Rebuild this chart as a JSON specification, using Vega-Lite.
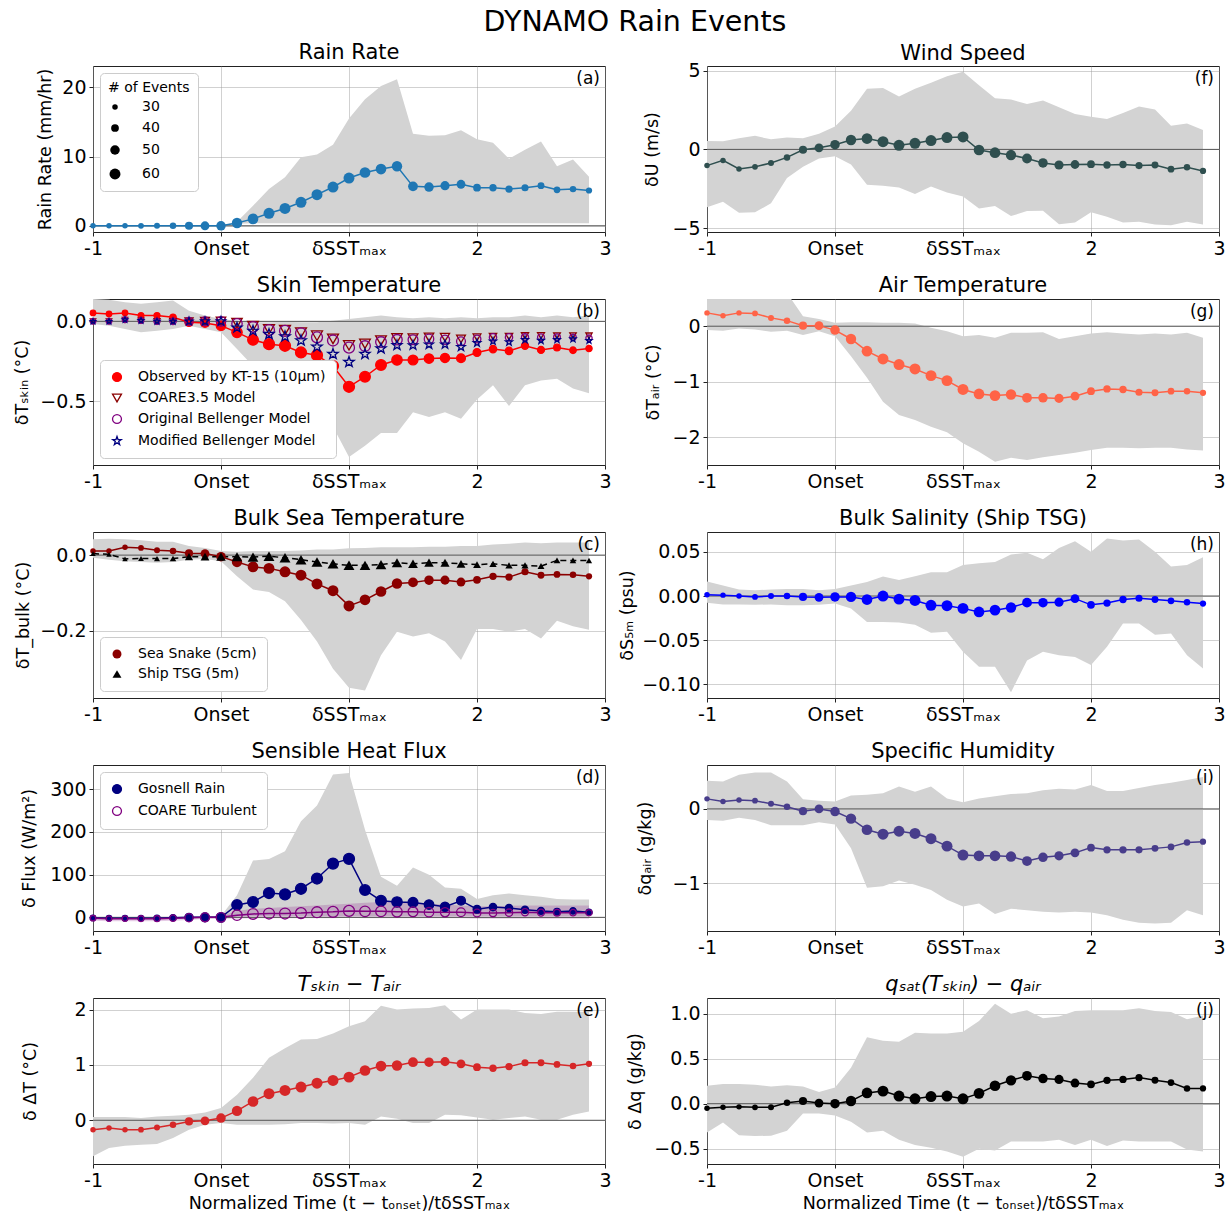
{
"$schema":"https://vega.github.io/schema/vega-lite/v6.json",
"padding":{"left":12,"top":8,"right":5,"bottom":0},
"background":"white",
"title":{"text":"DYNAMO Rain Events","fontSize":28.5,"anchor":"middle","offset":5,"dx":16},
"config":{
 "font":"DejaVu Sans",
 "view":{"stroke":"#222222","strokeWidth":1},
 "axis":{"labelFontSize":19,"titleFontSize":17.5,"titleFontWeight":"normal","labelColor":"#000000","titleColor":"#000000","tickColor":"#222222","tickSize":4,"domain":false,"gridColor":"#999999","gridOpacity":0.45,"zindex":1,"labelPadding":3,"labelFlush":false,"labelOverlap":false},
 "axisX":{"titlePadding":4},
 "axisY":{"titleBaseline":"middle"},
 "title":{"fontSize":21,"fontWeight":"normal","color":"#000000","offset":3},
 "legend":{"fillColor":"white","strokeColor":"#cccccc","padding":10,"cornerRadius":4,"labelFontSize":14,"titleFontSize":14,"titleFontWeight":"normal","offset":7,"zindex":2,"rowPadding":6,"labelColor":"#000000","titleColor":"#000000","symbolStrokeWidth":1.3,"labelLimit":400,"labelOffset":14}
},
"datasets":{"main":[
{"t":-1,"n":30,"a":0,"a_lo":0,"a_hi":0,"f":-1.03,"f_lo":-3.68,"f_hi":0.54,"b_obs":0.053,"b_coare":0,"b_orig":0,"b_mod":0,"b_lo":-0.017,"b_hi":0.14,"g":0.24,"g_lo":-0.07,"g_hi":0.6,"c_snake":0.011,"c_tsg":0.004,"c_lo":-0.007,"c_hi":0.042,"h":0.0015,"h_lo":-0.0075,"h_hi":0.0165,"d_gos":-1.5,"d_coare":-2,"d_lo":-4,"d_hi":1,"dc_lo":-8,"dc_hi":0,"i":0.135,"i_lo":-0.15,"i_hi":0.38,"e":-0.17,"e_lo":-0.65,"e_hi":0.06,"j":-0.05,"j_lo":-0.32,"j_hi":0.2},
{"t":-0.875,"n":30,"a":0,"a_lo":0,"a_hi":0,"f":-0.7,"f_lo":-3.32,"f_hi":0.51,"b_obs":0.046,"b_coare":0,"b_orig":0,"b_mod":0,"b_lo":-0.027,"b_hi":0.135,"g":0.19,"g_lo":-0.08,"g_hi":0.6,"c_snake":0.011,"c_tsg":0.002,"c_lo":-0.012,"c_hi":0.043,"h":0.001,"h_lo":-0.0095,"h_hi":0.012,"d_gos":-2,"d_coare":-3,"d_lo":-5,"d_hi":1,"dc_lo":-9,"dc_hi":-1,"i":0.1,"i_lo":-0.16,"i_hi":0.37,"e":-0.14,"e_lo":-0.5,"e_hi":0.06,"j":-0.04,"j_lo":-0.21,"j_hi":0.22},
{"t":-0.75,"n":30,"a":0,"a_lo":0,"a_hi":0,"f":-1.24,"f_lo":-4.03,"f_hi":0.71,"b_obs":0.053,"b_coare":0.01,"b_orig":0.01,"b_mod":0.01,"b_lo":-0.048,"b_hi":0.12,"g":0.24,"g_lo":-0.04,"g_hi":0.6,"c_snake":0.021,"c_tsg":-0.01,"c_lo":-0.016,"c_hi":0.042,"h":0,"h_lo":-0.0095,"h_hi":0.0075,"d_gos":-2,"d_coare":-3,"d_lo":-5,"d_hi":1,"dc_lo":-9,"dc_hi":-1,"i":0.12,"i_lo":-0.12,"i_hi":0.46,"e":-0.17,"e_lo":-0.46,"e_hi":0.06,"j":-0.035,"j_lo":-0.35,"j_hi":0.22},
{"t":-0.625,"n":31,"a":0,"a_lo":0,"a_hi":0,"f":-1.11,"f_lo":-4.0,"f_hi":0.86,"b_obs":0.036,"b_coare":0.005,"b_orig":0.005,"b_mod":0.005,"b_lo":-0.069,"b_hi":0.11,"g":0.23,"g_lo":-0.06,"g_hi":0.6,"c_snake":0.019,"c_tsg":-0.009,"c_lo":-0.018,"c_hi":0.039,"h":-0.001,"h_lo":-0.01,"h_hi":0.0065,"d_gos":-2,"d_coare":-3,"d_lo":-5,"d_hi":1,"dc_lo":-9,"dc_hi":-1,"i":0.11,"i_lo":-0.15,"i_hi":0.49,"e":-0.17,"e_lo":-0.44,"e_hi":0.04,"j":-0.04,"j_lo":-0.36,"j_hi":0.21},
{"t":-0.5,"n":32,"a":0,"a_lo":0,"a_hi":0,"f":-0.86,"f_lo":-3.43,"f_hi":0.64,"b_obs":0.036,"b_coare":0,"b_orig":0,"b_mod":0,"b_lo":-0.059,"b_hi":0.12,"g":0.15,"g_lo":-0.1,"g_hi":0.6,"c_snake":0.013,"c_tsg":-0.009,"c_lo":-0.02,"c_hi":0.035,"h":0,"h_lo":-0.0095,"h_hi":0.0075,"d_gos":-2,"d_coare":-3,"d_lo":-5,"d_hi":1,"dc_lo":-9,"dc_hi":-1,"i":0.07,"i_lo":-0.22,"i_hi":0.49,"e":-0.13,"e_lo":-0.43,"e_hi":0.07,"j":-0.04,"j_lo":-0.355,"j_hi":0.19},
{"t":-0.375,"n":34,"a":0,"a_lo":0,"a_hi":0,"f":-0.51,"f_lo":-1.82,"f_hi":0.75,"b_obs":0.025,"b_coare":0,"b_orig":0,"b_mod":0,"b_lo":-0.048,"b_hi":0.13,"g":0.1,"g_lo":-0.08,"g_hi":0.6,"c_snake":0.011,"c_tsg":-0.009,"c_lo":-0.018,"c_hi":0.035,"h":0,"h_lo":-0.0105,"h_hi":0.008,"d_gos":-1,"d_coare":-2,"d_lo":-4,"d_hi":1,"dc_lo":-8,"dc_hi":0,"i":0.03,"i_lo":-0.22,"i_hi":0.37,"e":-0.08,"e_lo":-0.32,"e_hi":0.08,"j":0.01,"j_lo":-0.3,"j_hi":0.205},
{"t":-0.25,"n":42,"a":0,"a_lo":0,"a_hi":0,"f":-0.02,"f_lo":-1.11,"f_hi":0.71,"b_obs":-0.006,"b_coare":0,"b_orig":0,"b_mod":0,"b_lo":-0.027,"b_hi":0.067,"g":0.01,"g_lo":-0.16,"g_hi":0.18,"c_snake":0.005,"c_tsg":-0.004,"c_lo":-0.012,"c_hi":0.024,"h":-0.001,"h_lo":-0.0105,"h_hi":0.008,"d_gos":0,"d_coare":-1,"d_lo":-3,"d_hi":1,"dc_lo":-6,"dc_hi":1,"i":-0.03,"i_lo":-0.22,"i_hi":0.13,"e":-0.02,"e_lo":-0.17,"e_hi":0.1,"j":0.03,"j_lo":-0.11,"j_hi":0.19},
{"t":-0.125,"n":46,"a":0,"a_lo":0,"a_hi":0,"f":0.1,"f_lo":-0.58,"f_hi":1.0,"b_obs":-0.01,"b_coare":0,"b_orig":0,"b_mod":0,"b_lo":-0.048,"b_hi":0.036,"g":0.01,"g_lo":-0.09,"g_hi":0.13,"c_snake":0.004,"c_tsg":-0.004,"c_lo":-0.01,"c_hi":0.019,"h":-0.0015,"h_lo":-0.01,"h_hi":0.0065,"d_gos":0,"d_coare":0,"d_lo":-2,"d_hi":2,"dc_lo":-4,"dc_hi":2,"i":0,"i_lo":-0.18,"i_hi":0.11,"e":-0.01,"e_lo":-0.08,"e_hi":0.14,"j":0.007,"j_lo":-0.11,"j_hi":0.13},
{"t":0,"n":50,"a":0,"a_lo":0,"a_hi":0,"f":0.3,"f_lo":-0.43,"f_hi":1.46,"b_obs":-0.027,"b_coare":0,"b_orig":0,"b_mod":0,"b_lo":-0.069,"b_hi":0.015,"g":-0.07,"g_lo":-0.18,"g_hi":0.06,"c_snake":-0.004,"c_tsg":-0.004,"c_lo":-0.016,"c_hi":0.011,"h":-0.001,"h_lo":-0.0085,"h_hi":0.008,"d_gos":0,"d_coare":0,"d_lo":-2,"d_hi":3,"dc_lo":-3,"dc_hi":3,"i":-0.035,"i_lo":-0.21,"i_hi":0.1,"e":0.04,"e_lo":-0.05,"e_hi":0.22,"j":0,"j_lo":-0.13,"j_hi":0.18},
{"t":0.125,"n":56,"a":0.4,"a_lo":0.3,"a_hi":0.6,"f":0.6,"f_lo":-0.96,"f_hi":2.46,"b_obs":-0.069,"b_coare":-0.01,"b_orig":-0.015,"b_mod":-0.04,"b_lo":-0.174,"b_hi":0.004,"g":-0.23,"g_lo":-0.54,"g_hi":0.07,"c_snake":-0.018,"c_tsg":-0.004,"c_lo":-0.056,"c_hi":0.009,"h":-0.001,"h_lo":-0.014,"h_hi":0.012,"d_gos":29,"d_coare":5,"d_lo":2,"d_hi":52,"dc_lo":-3,"dc_hi":15,"i":-0.13,"i_lo":-0.53,"i_hi":0.18,"e":0.17,"e_lo":-0.08,"e_hi":0.46,"j":0.03,"j_lo":-0.2,"j_hi":0.4},
{"t":0.25,"n":58,"a":1.0,"a_lo":0.35,"a_hi":2.9,"f":0.69,"f_lo":-2.25,"f_hi":3.85,"b_obs":-0.116,"b_coare":-0.03,"b_orig":-0.035,"b_mod":-0.06,"b_lo":-0.28,"b_hi":-0.006,"g":-0.45,"g_lo":-0.93,"g_hi":0.07,"c_snake":-0.031,"c_tsg":-0.005,"c_lo":-0.091,"c_hi":0.011,"h":-0.004,"h_lo":-0.0295,"h_hi":0.016,"d_gos":36,"d_coare":8,"d_lo":3,"d_hi":133,"dc_lo":-2,"dc_hi":20,"i":-0.28,"i_lo":-1.06,"i_hi":0.19,"e":0.34,"e_lo":-0.08,"e_hi":0.77,"j":0.12,"j_lo":-0.32,"j_hi":0.74},
{"t":0.375,"n":60,"a":1.8,"a_lo":0.35,"a_hi":5.3,"f":0.49,"f_lo":-2.31,"f_hi":3.9,"b_obs":-0.143,"b_coare":-0.05,"b_orig":-0.055,"b_mod":-0.08,"b_lo":-0.32,"b_hi":-0.006,"g":-0.59,"g_lo":-1.36,"g_hi":0.06,"c_snake":-0.035,"c_tsg":-0.003,"c_lo":-0.097,"c_hi":0.011,"h":0,"h_lo":-0.0295,"h_hi":0.022,"d_gos":57,"d_coare":9,"d_lo":3,"d_hi":137,"dc_lo":-2,"dc_hi":22,"i":-0.34,"i_lo":-1.04,"i_hi":0.21,"e":0.48,"e_lo":-0.08,"e_hi":1.13,"j":0.14,"j_lo":-0.3,"j_hi":0.7},
{"t":0.5,"n":60,"a":2.5,"a_lo":0.35,"a_hi":7.0,"f":0.26,"f_lo":-2.42,"f_hi":3.36,"b_obs":-0.153,"b_coare":-0.055,"b_orig":-0.06,"b_mod":-0.095,"b_lo":-0.38,"b_hi":-0.002,"g":-0.69,"g_lo":-1.6,"g_hi":0.06,"c_snake":-0.044,"c_tsg":-0.007,"c_lo":-0.122,"c_hi":0.011,"h":-0.0035,"h_lo":-0.03,"h_hi":0.018,"d_gos":54,"d_coare":9,"d_lo":3,"d_hi":155,"dc_lo":-2,"dc_hi":24,"i":-0.3,"i_lo":-0.96,"i_hi":0.3,"e":0.54,"e_lo":-0.07,"e_hi":1.3,"j":0.085,"j_lo":-0.4,"j_hi":0.69},
{"t":0.625,"n":60,"a":3.4,"a_lo":0.35,"a_hi":9.9,"f":0.39,"f_lo":-2.83,"f_hi":3.85,"b_obs":-0.195,"b_coare":-0.07,"b_orig":-0.075,"b_mod":-0.12,"b_lo":-0.47,"b_hi":-0.006,"g":-0.77,"g_lo":-1.69,"g_hi":0.05,"c_snake":-0.053,"c_tsg":-0.012,"c_lo":-0.171,"c_hi":0.012,"h":-0.005,"h_lo":-0.0325,"h_hi":0.0225,"d_gos":67,"d_coare":10,"d_lo":3,"d_hi":225,"dc_lo":-2,"dc_hi":26,"i":-0.33,"i_lo":-1.02,"i_hi":0.23,"e":0.6,"e_lo":-0.05,"e_hi":1.46,"j":0.055,"j_lo":-0.46,"j_hi":0.79},
{"t":0.75,"n":60,"a":4.5,"a_lo":0.35,"a_hi":10.3,"f":0.56,"f_lo":-2.36,"f_hi":4.24,"b_obs":-0.212,"b_coare":-0.09,"b_orig":-0.1,"b_mod":-0.16,"b_lo":-0.55,"b_hi":-0.006,"g":-0.89,"g_lo":-1.81,"g_hi":-0.03,"c_snake":-0.076,"c_tsg":-0.018,"c_lo":-0.228,"c_hi":0.015,"h":-0.0105,"h_lo":-0.0415,"h_hi":0.027,"d_gos":91,"d_coare":12,"d_lo":3,"d_hi":262,"dc_lo":-2,"dc_hi":28,"i":-0.4,"i_lo":-1.09,"i_hi":0.3,"e":0.67,"e_lo":-0.05,"e_hi":1.47,"j":0.08,"j_lo":-0.49,"j_hi":0.78},
{"t":0.875,"n":60,"a":5.6,"a_lo":0.35,"a_hi":11.7,"f":0.75,"f_lo":-2.74,"f_hi":4.65,"b_obs":-0.28,"b_coare":-0.11,"b_orig":-0.12,"b_mod":-0.205,"b_lo":-0.66,"b_hi":0.004,"g":-0.98,"g_lo":-1.91,"g_hi":-0.09,"c_snake":-0.094,"c_tsg":-0.023,"c_lo":-0.3,"c_hi":0.015,"h":-0.011,"h_lo":-0.0405,"h_hi":0.027,"d_gos":126,"d_coare":13,"d_lo":3,"d_hi":335,"dc_lo":-2,"dc_hi":30,"i":-0.5,"i_lo":-1.22,"i_hi":0.14,"e":0.72,"e_lo":-0.06,"e_hi":1.57,"j":0.085,"j_lo":-0.53,"j_hi":0.78},
{"t":1,"n":60,"a":6.9,"a_lo":0.35,"a_hi":15.5,"f":0.79,"f_lo":-3.0,"f_hi":4.93,"b_obs":-0.41,"b_coare":-0.15,"b_orig":-0.165,"b_mod":-0.255,"b_lo":-0.85,"b_hi":0.015,"g":-1.14,"g_lo":-2.11,"g_hi":-0.18,"c_snake":-0.134,"c_tsg":-0.027,"c_lo":-0.35,"c_hi":0.018,"h":-0.014,"h_lo":-0.063,"h_hi":0.035,"d_gos":137,"d_coare":15,"d_lo":3,"d_hi":338,"dc_lo":-1,"dc_hi":32,"i":-0.62,"i_lo":-1.31,"i_hi":0.09,"e":0.78,"e_lo":-0.05,"e_hi":1.7,"j":0.055,"j_lo":-0.59,"j_hi":0.8},
{"t":1.125,"n":58,"a":7.7,"a_lo":0.35,"a_hi":18.3,"f":-0.04,"f_lo":-3.75,"f_hi":4.07,"b_obs":-0.347,"b_coare":-0.14,"b_orig":-0.155,"b_mod":-0.205,"b_lo":-0.78,"b_hi":0.025,"g":-1.22,"g_lo":-2.26,"g_hi":-0.16,"c_snake":-0.118,"c_tsg":-0.027,"c_lo":-0.357,"c_hi":0.019,"h":-0.018,"h_lo":-0.08,"h_hi":0.037,"d_gos":64,"d_coare":14,"d_lo":3,"d_hi":205,"dc_lo":-2,"dc_hi":34,"i":-0.63,"i_lo":-1.27,"i_hi":0.14,"e":0.9,"e_lo":-0.08,"e_hi":1.79,"j":0.115,"j_lo":-0.5,"j_hi":0.92},
{"t":1.25,"n":58,"a":8.2,"a_lo":0.35,"a_hi":20.2,"f":-0.21,"f_lo":-3.6,"f_hi":3.25,"b_obs":-0.273,"b_coare":-0.12,"b_orig":-0.13,"b_mod":-0.17,"b_lo":-0.7,"b_hi":0.036,"g":-1.25,"g_lo":-2.44,"g_hi":-0.21,"c_snake":-0.096,"c_tsg":-0.025,"c_lo":-0.264,"c_hi":0.021,"h":-0.016,"h_lo":-0.08,"h_hi":0.0385,"d_gos":39,"d_coare":14,"d_lo":3,"d_hi":95,"dc_lo":-2,"dc_hi":36,"i":-0.63,"i_lo":-1.41,"i_hi":0.17,"e":0.98,"e_lo":0.07,"e_hi":2.07,"j":0.2,"j_lo":-0.52,"j_hi":1.11},
{"t":1.375,"n":56,"a":8.6,"a_lo":0.35,"a_hi":21.2,"f":-0.36,"f_lo":-4.24,"f_hi":3.17,"b_obs":-0.242,"b_coare":-0.105,"b_orig":-0.115,"b_mod":-0.15,"b_lo":-0.7,"b_hi":0.025,"g":-1.23,"g_lo":-2.37,"g_hi":-0.12,"c_snake":-0.075,"c_tsg":-0.02,"c_lo":-0.202,"c_hi":0.021,"h":-0.013,"h_lo":-0.109,"h_hi":0.047,"d_gos":36,"d_coare":13,"d_lo":3,"d_hi":74,"dc_lo":-2,"dc_hi":36,"i":-0.64,"i_lo":-1.34,"i_hi":0.2,"e":0.99,"e_lo":0.03,"e_hi":2.0,"j":0.26,"j_lo":-0.42,"j_hi":1.0},
{"t":1.5,"n":52,"a":5.7,"a_lo":0.35,"a_hi":13.3,"f":-0.58,"f_lo":-3.92,"f_hi":2.89,"b_obs":-0.242,"b_coare":-0.105,"b_orig":-0.115,"b_mod":-0.15,"b_lo":-0.57,"b_hi":0.019,"g":-1.29,"g_lo":-2.41,"g_hi":-0.12,"c_snake":-0.072,"c_tsg":-0.023,"c_lo":-0.215,"c_hi":0.021,"h":-0.0075,"h_lo":-0.073,"h_hi":0.049,"d_gos":35,"d_coare":13,"d_lo":3,"d_hi":117,"dc_lo":-2,"dc_hi":34,"i":-0.7,"i_lo":-1.36,"i_hi":0.21,"e":1.05,"e_lo":-0.05,"e_hi":2.02,"j":0.31,"j_lo":-0.42,"j_hi":1.04},
{"t":1.625,"n":50,"a":5.6,"a_lo":0.35,"a_hi":13.0,"f":-0.86,"f_lo":-3.9,"f_hi":3.1,"b_obs":-0.233,"b_coare":-0.1,"b_orig":-0.11,"b_mod":-0.145,"b_lo":-0.6,"b_hi":0.025,"g":-1.29,"g_lo":-2.36,"g_hi":-0.11,"c_snake":-0.066,"c_tsg":-0.02,"c_lo":-0.206,"c_hi":0.022,"h":-0.0075,"h_lo":-0.063,"h_hi":0.0415,"d_gos":30,"d_coare":12,"d_lo":3,"d_hi":100,"dc_lo":-2,"dc_hi":32,"i":-0.65,"i_lo":-1.38,"i_hi":0.25,"e":1.05,"e_lo":-0.05,"e_hi":2.03,"j":0.28,"j_lo":-0.42,"j_hi":0.95},
{"t":1.75,"n":48,"a":5.8,"a_lo":0.35,"a_hi":13.1,"f":-0.99,"f_lo":-4.75,"f_hi":2.68,"b_obs":-0.229,"b_coare":-0.1,"b_orig":-0.115,"b_mod":-0.145,"b_lo":-0.57,"b_hi":0.019,"g":-1.3,"g_lo":-2.32,"g_hi":-0.23,"c_snake":-0.066,"c_tsg":-0.02,"c_lo":-0.228,"c_hi":0.022,"h":-0.007,"h_lo":-0.067,"h_hi":0.0545,"d_gos":25,"d_coare":12,"d_lo":3,"d_hi":70,"dc_lo":-2,"dc_hi":30,"i":-0.63,"i_lo":-1.39,"i_hi":0.27,"e":1.06,"e_lo":0.1,"e_hi":2.08,"j":0.27,"j_lo":-0.4,"j_hi":0.97},
{"t":1.875,"n":46,"a":6.0,"a_lo":0.35,"a_hi":13.8,"f":-0.96,"f_lo":-4.65,"f_hi":2.25,"b_obs":-0.231,"b_coare":-0.11,"b_orig":-0.125,"b_mod":-0.16,"b_lo":-0.61,"b_hi":0.025,"g":-1.26,"g_lo":-2.28,"g_hi":-0.18,"c_snake":-0.071,"c_tsg":-0.023,"c_lo":-0.277,"c_hi":0.024,"h":-0.003,"h_lo":-0.069,"h_hi":0.062,"d_gos":39,"d_coare":12,"d_lo":3,"d_hi":67,"dc_lo":-2,"dc_hi":28,"i":-0.59,"i_lo":-1.38,"i_hi":0.26,"e":1.02,"e_lo":0.09,"e_hi":1.82,"j":0.23,"j_lo":-0.46,"j_hi":1.03},
{"t":2,"n":40,"a":5.5,"a_lo":0.35,"a_hi":12.5,"f":-0.94,"f_lo":-4.0,"f_hi":2.08,"b_obs":-0.195,"b_coare":-0.1,"b_orig":-0.11,"b_mod":-0.135,"b_lo":-0.49,"b_hi":0.019,"g":-1.17,"g_lo":-2.23,"g_hi":-0.13,"c_snake":-0.065,"c_tsg":-0.025,"c_lo":-0.195,"c_hi":0.024,"h":-0.01,"h_lo":-0.078,"h_hi":0.05,"d_gos":19,"d_coare":10,"d_lo":3,"d_hi":43,"dc_lo":-3,"dc_hi":26,"i":-0.52,"i_lo":-1.39,"i_hi":0.32,"e":0.96,"e_lo":0.05,"e_hi":2.0,"j":0.215,"j_lo":-0.4,"j_hi":1.04},
{"t":2.125,"n":38,"a":5.5,"a_lo":0.35,"a_hi":12.0,"f":-0.99,"f_lo":-4.28,"f_hi":1.93,"b_obs":-0.174,"b_coare":-0.095,"b_orig":-0.1,"b_mod":-0.125,"b_lo":-0.4,"b_hi":0.025,"g":-1.13,"g_lo":-2.19,"g_hi":-0.11,"c_snake":-0.056,"c_tsg":-0.023,"c_lo":-0.195,"c_hi":0.028,"h":-0.008,"h_lo":-0.0575,"h_hi":0.065,"d_gos":24,"d_coare":10,"d_lo":3,"d_hi":52,"dc_lo":-3,"dc_hi":26,"i":-0.55,"i_lo":-1.43,"i_hi":0.24,"e":0.94,"e_lo":0.01,"e_hi":2.0,"j":0.26,"j_lo":-0.47,"j_hi":1.04},
{"t":2.25,"n":38,"a":5.3,"a_lo":0.35,"a_hi":9.7,"f":-0.96,"f_lo":-4.65,"f_hi":2.31,"b_obs":-0.185,"b_coare":-0.095,"b_orig":-0.1,"b_mod":-0.13,"b_lo":-0.53,"b_hi":0.025,"g":-1.14,"g_lo":-2.19,"g_hi":-0.13,"c_snake":-0.058,"c_tsg":-0.027,"c_lo":-0.202,"c_hi":0.03,"h":-0.004,"h_lo":-0.031,"h_hi":0.063,"d_gos":22,"d_coare":11,"d_lo":3,"d_hi":56,"dc_lo":-3,"dc_hi":27,"i":-0.55,"i_lo":-1.49,"i_hi":0.24,"e":0.97,"e_lo":0.04,"e_hi":2.0,"j":0.27,"j_lo":-0.41,"j_hi":1.04},
{"t":2.375,"n":37,"a":5.5,"a_lo":0.35,"a_hi":11.0,"f":-1.03,"f_lo":-4.6,"f_hi":2.72,"b_obs":-0.153,"b_coare":-0.09,"b_orig":-0.1,"b_mod":-0.115,"b_lo":-0.4,"b_hi":0.036,"g":-1.19,"g_lo":-2.2,"g_hi":-0.15,"c_snake":-0.044,"c_tsg":-0.027,"c_lo":-0.195,"c_hi":0.033,"h":-0.0025,"h_lo":-0.031,"h_hi":0.064,"d_gos":18,"d_coare":12,"d_lo":3,"d_hi":52,"dc_lo":-3,"dc_hi":28,"i":-0.55,"i_lo":-1.53,"i_hi":0.28,"e":1.04,"e_lo":0.07,"e_hi":1.94,"j":0.29,"j_lo":-0.42,"j_hi":1.06},
{"t":2.5,"n":36,"a":5.8,"a_lo":0.35,"a_hi":12.2,"f":-0.99,"f_lo":-4.78,"f_hi":2.53,"b_obs":-0.179,"b_coare":-0.09,"b_orig":-0.1,"b_mod":-0.12,"b_lo":-0.37,"b_hi":0.025,"g":-1.2,"g_lo":-2.19,"g_hi":-0.13,"c_snake":-0.053,"c_tsg":-0.029,"c_lo":-0.22,"c_hi":0.031,"h":-0.004,"h_lo":-0.044,"h_hi":0.05,"d_gos":15,"d_coare":11,"d_lo":3,"d_hi":48,"dc_lo":-3,"dc_hi":28,"i":-0.53,"i_lo":-1.54,"i_hi":0.32,"e":1.04,"e_lo":0.01,"e_hi":1.92,"j":0.26,"j_lo":-0.42,"j_hi":1.03},
{"t":2.625,"n":35,"a":5.2,"a_lo":0.35,"a_hi":8.6,"f":-1.26,"f_lo":-4.82,"f_hi":1.5,"b_obs":-0.164,"b_coare":-0.09,"b_orig":-0.1,"b_mod":-0.115,"b_lo":-0.36,"b_hi":0.036,"g":-1.17,"g_lo":-2.19,"g_hi":-0.15,"c_snake":-0.051,"c_tsg":-0.014,"c_lo":-0.173,"c_hi":0.033,"h":-0.0055,"h_lo":-0.0425,"h_hi":0.0335,"d_gos":13,"d_coare":11,"d_lo":3,"d_hi":43,"dc_lo":-3,"dc_hi":28,"i":-0.51,"i_lo":-1.53,"i_hi":0.35,"e":1.01,"e_lo":0.01,"e_hi":1.96,"j":0.235,"j_lo":-0.42,"j_hi":1.02},
{"t":2.75,"n":34,"a":5.3,"a_lo":0.35,"a_hi":9.6,"f":-1.13,"f_lo":-4.6,"f_hi":1.65,"b_obs":-0.181,"b_coare":-0.09,"b_orig":-0.1,"b_mod":-0.11,"b_lo":-0.42,"b_hi":0.025,"g":-1.17,"g_lo":-2.22,"g_hi":-0.12,"c_snake":-0.052,"c_tsg":-0.014,"c_lo":-0.188,"c_hi":0.033,"h":-0.007,"h_lo":-0.067,"h_hi":0.035,"d_gos":15,"d_coare":11,"d_lo":3,"d_hi":42,"dc_lo":-3,"dc_hi":28,"i":-0.45,"i_lo":-1.36,"i_hi":0.39,"e":0.98,"e_lo":0.1,"e_hi":1.96,"j":0.17,"j_lo":-0.51,"j_hi":0.94},
{"t":2.875,"n":33,"a":5.1,"a_lo":0.35,"a_hi":7.1,"f":-1.37,"f_lo":-4.78,"f_hi":1.24,"b_obs":-0.17,"b_coare":-0.09,"b_orig":-0.105,"b_mod":-0.12,"b_lo":-0.45,"b_hi":0.036,"g":-1.2,"g_lo":-2.24,"g_hi":-0.21,"c_snake":-0.056,"c_tsg":-0.014,"c_lo":-0.197,"c_hi":0.033,"h":-0.0085,"h_lo":-0.082,"h_hi":0.044,"d_gos":12,"d_coare":11,"d_lo":3,"d_hi":42,"dc_lo":-3,"dc_hi":28,"i":-0.44,"i_lo":-1.43,"i_hi":0.43,"e":1.02,"e_lo":0.16,"e_hi":1.96,"j":0.17,"j_lo":-0.53,"j_hi":0.98}
]},
"columns":2,
"bounds":"flush",
"spacing":{"row":67,"column":102},
"resolve":{"scale":{"color":"independent","fill":"independent","stroke":"independent","shape":"independent","size":"independent"},"legend":{"color":"independent","fill":"independent","stroke":"independent","shape":"independent","size":"independent"}},
"concat":[
{"width":512,"height":166,"title":"Rain Rate","data":{"name":"main"},"layer":[
 {"mark":{"type":"area","color":"#d3d3d3","clip":true},"encoding":{"x":{"field":"t","type":"quantitative","scale":{"domain":[-1,3],"nice":false,"zero":false},"axis":{"values":[-1,0,1,2,3],"labelExpr":"datum.value == 0 ? 'Onset' : datum.value == 1 ? 'δSSTₘₐₓ' : datum.value == -1 ? '-1' : datum.value == 2 ? '2' : '3'","title":null}},"y":{"field":"a_lo","type":"quantitative","scale":{"domain":[-0.9,23.1],"nice":false,"zero":false},"axis":{"title":"Rain Rate (mm/hr)","values":[0,10,20],"format":"d","titleX":-48}},"y2":{"field":"a_hi"}}},
 {"data":{"values":[{}]},"mark":{"type":"rule","color":"#555555","strokeWidth":1},"encoding":{"y":{"datum":0,"type":"quantitative"}}},
 {"mark":{"type":"line","color":"#1f77b4","strokeWidth":1.5},"encoding":{"x":{"field":"t","type":"quantitative"},"y":{"field":"a","type":"quantitative"}}},
 {"mark":{"type":"circle","color":"#000000","opacity":0},"encoding":{"x":{"field":"t","type":"quantitative"},"y":{"field":"a","type":"quantitative"},"size":{"field":"n","type":"quantitative","scale":{"domain":[30,60],"range":[30,120]},"legend":{"title":"# of Events","orient":"top-left","values":[30,40,50,60],"symbolType":"circle","labelOffset":20,"rowPadding":7,"padding":8}}}},
 {"mark":{"type":"circle","color":"#1f77b4","opacity":1},"encoding":{"x":{"field":"t","type":"quantitative"},"y":{"field":"a","type":"quantitative"},"size":{"field":"n","type":"quantitative","scale":{"domain":[30,60],"range":[30,120]},"legend":null}}},
 {"data":{"values":[{"label":"(a)"}]},"mark":{"type":"text","align":"right","baseline":"top","dx":-5,"dy":5,"fontSize":17},"encoding":{"x":{"datum":3,"type":"quantitative"},"y":{"datum":23.1,"type":"quantitative"},"text":{"field":"label"}}}
]},
{"width":512,"height":166,"title":{"text":"Wind Speed","offset":-2},"data":{"name":"main"},"layer":[
 {"mark":{"type":"area","color":"#d3d3d3","clip":true},"encoding":{"x":{"field":"t","type":"quantitative","scale":{"domain":[-1,3],"nice":false,"zero":false},"axis":{"values":[-1,0,1,2,3],"labelExpr":"datum.value == 0 ? 'Onset' : datum.value == 1 ? 'δSSTₘₐₓ' : datum.value == -1 ? '-1' : datum.value == 2 ? '2' : '3'","title":null}},"y":{"field":"f_lo","type":"quantitative","scale":{"domain":[-5.25,5.3],"nice":false,"zero":false},"axis":{"title":"δU (m/s)","values":[-5,0,5],"format":"d","titleX":-55}},"y2":{"field":"f_hi"}}},
 {"data":{"values":[{}]},"mark":{"type":"rule","color":"#555555","strokeWidth":1},"encoding":{"y":{"datum":0,"type":"quantitative"}}},
 {"mark":{"type":"line","color":"#2f4f4f","strokeWidth":1.5},"encoding":{"x":{"field":"t","type":"quantitative"},"y":{"field":"f","type":"quantitative"}}},
 {"mark":{"type":"circle","color":"#2f4f4f","opacity":1},"encoding":{"x":{"field":"t","type":"quantitative"},"y":{"field":"f","type":"quantitative"},"size":{"field":"n","type":"quantitative","scale":{"domain":[30,60],"range":[30,120]},"legend":null}}},
 {"data":{"values":[{"label":"(f)"}]},"mark":{"type":"text","align":"right","baseline":"top","dx":-5,"dy":5,"fontSize":17},"encoding":{"x":{"datum":3,"type":"quantitative"},"y":{"datum":5.3,"type":"quantitative"},"text":{"field":"label"}}}
]},
{"width":512,"height":166,"title":"Skin Temperature","data":{"name":"main"},"layer":[
 {"mark":{"type":"area","color":"#d3d3d3","clip":true},"encoding":{"x":{"field":"t","type":"quantitative","scale":{"domain":[-1,3],"nice":false,"zero":false},"axis":{"values":[-1,0,1,2,3],"labelExpr":"datum.value == 0 ? 'Onset' : datum.value == 1 ? 'δSSTₘₐₓ' : datum.value == -1 ? '-1' : datum.value == 2 ? '2' : '3'","title":null}},"y":{"field":"b_lo","type":"quantitative","scale":{"domain":[-0.9,0.14],"nice":false,"zero":false},"axis":{"title":"δTₛₖᵢₙ (°C)","values":[-0.5,0],"format":".1f","titleX":-71}},"y2":{"field":"b_hi"}}},
 {"data":{"values":[{}]},"mark":{"type":"rule","color":"#555555","strokeWidth":1},"encoding":{"y":{"datum":0,"type":"quantitative"}}},
 {"mark":{"type":"line","color":"#ff0000","strokeWidth":1.5},"encoding":{"x":{"field":"t","type":"quantitative"},"y":{"field":"b_obs","type":"quantitative"}}},
 {"transform":[{"fold":["b_obs","b_coare","b_orig","b_mod"],"as":["series","v"]}],"mark":{"type":"point","strokeWidth":1.3,"opacity":1},"encoding":{"x":{"field":"t","type":"quantitative"},"y":{"field":"v","type":"quantitative"},
  "shape":{"field":"series","type":"nominal","scale":{"domain":["b_obs","b_coare","b_orig","b_mod"],"range":["circle","triangle-down","circle","M0,-1L0.235,-0.324L0.951,-0.309L0.38,0.124L0.588,0.809L0,0.4L-0.588,0.809L-0.38,0.124L-0.951,-0.309L-0.235,-0.324Z"]},"legend":{"title":null,"orient":"bottom-left","symbolSize":80,"labelExpr":"datum.value == 'b_obs' ? 'Observed by KT-15 (10μm)' : datum.value == 'b_coare' ? 'COARE3.5 Model' : datum.value == 'b_orig' ? 'Original Bellenger Model' : 'Modified Bellenger Model'"}},
  "fill":{"field":"series","type":"nominal","scale":{"domain":["b_obs","b_coare","b_orig","b_mod"],"range":["#ff0000","transparent","transparent","transparent"]},"legend":{"title":null,"orient":"bottom-left","symbolSize":80,"labelExpr":"datum.value == 'b_obs' ? 'Observed by KT-15 (10μm)' : datum.value == 'b_coare' ? 'COARE3.5 Model' : datum.value == 'b_orig' ? 'Original Bellenger Model' : 'Modified Bellenger Model'"}},
  "stroke":{"field":"series","type":"nominal","scale":{"domain":["b_obs","b_coare","b_orig","b_mod"],"range":["#ff0000","#8b0000","#800080","#000080"]},"legend":{"title":null,"orient":"bottom-left","symbolSize":80,"labelExpr":"datum.value == 'b_obs' ? 'Observed by KT-15 (10μm)' : datum.value == 'b_coare' ? 'COARE3.5 Model' : datum.value == 'b_orig' ? 'Original Bellenger Model' : 'Modified Bellenger Model'"}},
  "size":{"field":"n","type":"quantitative","scale":{"domain":[30,60],"range":[30,120]},"legend":null}}},
 {"data":{"values":[{"label":"(b)"}]},"mark":{"type":"text","align":"right","baseline":"top","dx":-5,"dy":5,"fontSize":17},"encoding":{"x":{"datum":3,"type":"quantitative"},"y":{"datum":0.14,"type":"quantitative"},"text":{"field":"label"}}}
]},
{"width":512,"height":166,"title":"Air Temperature","data":{"name":"main"},"layer":[
 {"mark":{"type":"area","color":"#d3d3d3","clip":true},"encoding":{"x":{"field":"t","type":"quantitative","scale":{"domain":[-1,3],"nice":false,"zero":false},"axis":{"values":[-1,0,1,2,3],"labelExpr":"datum.value == 0 ? 'Onset' : datum.value == 1 ? 'δSSTₘₐₓ' : datum.value == -1 ? '-1' : datum.value == 2 ? '2' : '3'","title":null}},"y":{"field":"g_lo","type":"quantitative","scale":{"domain":[-2.5,0.49],"nice":false,"zero":false},"axis":{"title":"δTₐᵢᵣ (°C)","values":[-2,-1,0],"format":"d","titleX":-54}},"y2":{"field":"g_hi"}}},
 {"data":{"values":[{}]},"mark":{"type":"rule","color":"#555555","strokeWidth":1},"encoding":{"y":{"datum":0,"type":"quantitative"}}},
 {"mark":{"type":"line","color":"#ff6347","strokeWidth":1.5},"encoding":{"x":{"field":"t","type":"quantitative"},"y":{"field":"g","type":"quantitative"}}},
 {"mark":{"type":"circle","color":"#ff6347","opacity":1},"encoding":{"x":{"field":"t","type":"quantitative"},"y":{"field":"g","type":"quantitative"},"size":{"field":"n","type":"quantitative","scale":{"domain":[30,60],"range":[30,120]},"legend":null}}},
 {"data":{"values":[{"label":"(g)"}]},"mark":{"type":"text","align":"right","baseline":"top","dx":-5,"dy":5,"fontSize":17},"encoding":{"x":{"datum":3,"type":"quantitative"},"y":{"datum":0.49,"type":"quantitative"},"text":{"field":"label"}}}
]},
{"width":512,"height":166,"title":"Bulk Sea Temperature","data":{"name":"main"},"layer":[
 {"mark":{"type":"area","color":"#d3d3d3","clip":true},"encoding":{"x":{"field":"t","type":"quantitative","scale":{"domain":[-1,3],"nice":false,"zero":false},"axis":{"values":[-1,0,1,2,3],"labelExpr":"datum.value == 0 ? 'Onset' : datum.value == 1 ? 'δSSTₘₐₓ' : datum.value == -1 ? '-1' : datum.value == 2 ? '2' : '3'","title":null}},"y":{"field":"c_lo","type":"quantitative","scale":{"domain":[-0.377,0.061],"nice":false,"zero":false},"axis":{"title":"δT_bulk (°C)","values":[-0.2,0],"format":".1f","titleX":-70}},"y2":{"field":"c_hi"}}},
 {"data":{"values":[{}]},"mark":{"type":"rule","color":"#555555","strokeWidth":1},"encoding":{"y":{"datum":0,"type":"quantitative"}}},
 {"mark":{"type":"line","color":"#8b0000","strokeWidth":1.5},"encoding":{"x":{"field":"t","type":"quantitative"},"y":{"field":"c_snake","type":"quantitative"}}},
 {"mark":{"type":"line","color":"#000000","strokeWidth":1.5,"strokeDash":[6,4]},"encoding":{"x":{"field":"t","type":"quantitative"},"y":{"field":"c_tsg","type":"quantitative"}}},
 {"transform":[{"fold":["c_snake","c_tsg"],"as":["series","v"]}],"mark":{"type":"point","filled":true,"opacity":1},"encoding":{"x":{"field":"t","type":"quantitative"},"y":{"field":"v","type":"quantitative"},
  "color":{"field":"series","type":"nominal","scale":{"domain":["c_snake","c_tsg"],"range":["#8b0000","#000000"]},"legend":{"title":null,"orient":"bottom-left","symbolSize":80,"labelExpr":"datum.value == 'c_snake' ? 'Sea Snake (5cm)' : 'Ship TSG (5m)'"}},
  "shape":{"field":"series","type":"nominal","scale":{"domain":["c_snake","c_tsg"],"range":["circle","triangle-up"]},"legend":{"title":null,"orient":"bottom-left","symbolSize":80,"labelExpr":"datum.value == 'c_snake' ? 'Sea Snake (5cm)' : 'Ship TSG (5m)'"}},
  "size":{"field":"n","type":"quantitative","scale":{"domain":[30,60],"range":[30,120]},"legend":null}}},
 {"data":{"values":[{"label":"(c)"}]},"mark":{"type":"text","align":"right","baseline":"top","dx":-5,"dy":5,"fontSize":17},"encoding":{"x":{"datum":3,"type":"quantitative"},"y":{"datum":0.061,"type":"quantitative"},"text":{"field":"label"}}}
]},
{"width":512,"height":166,"title":"Bulk Salinity (Ship TSG)","data":{"name":"main"},"layer":[
 {"mark":{"type":"area","color":"#d3d3d3","clip":true},"encoding":{"x":{"field":"t","type":"quantitative","scale":{"domain":[-1,3],"nice":false,"zero":false},"axis":{"values":[-1,0,1,2,3],"labelExpr":"datum.value == 0 ? 'Onset' : datum.value == 1 ? 'δSSTₘₐₓ' : datum.value == -1 ? '-1' : datum.value == 2 ? '2' : '3'","title":null}},"y":{"field":"h_lo","type":"quantitative","scale":{"domain":[-0.1155,0.0725],"nice":false,"zero":false},"axis":{"title":"δS₅ₘ (psu)","values":[-0.1,-0.05,0,0.05],"format":".2f","titleX":-80}},"y2":{"field":"h_hi"}}},
 {"data":{"values":[{}]},"mark":{"type":"rule","color":"#555555","strokeWidth":1},"encoding":{"y":{"datum":0,"type":"quantitative"}}},
 {"mark":{"type":"line","color":"#0000ff","strokeWidth":1.5},"encoding":{"x":{"field":"t","type":"quantitative"},"y":{"field":"h","type":"quantitative"}}},
 {"mark":{"type":"circle","color":"#0000ff","opacity":1},"encoding":{"x":{"field":"t","type":"quantitative"},"y":{"field":"h","type":"quantitative"},"size":{"field":"n","type":"quantitative","scale":{"domain":[30,60],"range":[30,120]},"legend":null}}},
 {"data":{"values":[{"label":"(h)"}]},"mark":{"type":"text","align":"right","baseline":"top","dx":-5,"dy":5,"fontSize":17},"encoding":{"x":{"datum":3,"type":"quantitative"},"y":{"datum":0.0725,"type":"quantitative"},"text":{"field":"label"}}}
]},
{"width":512,"height":166,"title":"Sensible Heat Flux","data":{"name":"main"},"layer":[
 {"mark":{"type":"area","color":"#d3d3d3","clip":true},"encoding":{"x":{"field":"t","type":"quantitative","scale":{"domain":[-1,3],"nice":false,"zero":false},"axis":{"values":[-1,0,1,2,3],"labelExpr":"datum.value == 0 ? 'Onset' : datum.value == 1 ? 'δSSTₘₐₓ' : datum.value == -1 ? '-1' : datum.value == 2 ? '2' : '3'","title":null}},"y":{"field":"d_lo","type":"quantitative","scale":{"domain":[-32,357],"nice":false,"zero":false},"axis":{"title":"δ Flux (W/m²)","values":[0,100,200,300],"format":"d","titleX":-64}},"y2":{"field":"d_hi"}}},
 {"mark":{"type":"area","color":"#800080","opacity":0.2,"clip":true},"encoding":{"x":{"field":"t","type":"quantitative"},"y":{"field":"dc_lo","type":"quantitative"},"y2":{"field":"dc_hi"}}},
 {"data":{"values":[{}]},"mark":{"type":"rule","color":"#555555","strokeWidth":1},"encoding":{"y":{"datum":0,"type":"quantitative"}}},
 {"mark":{"type":"line","color":"#000080","strokeWidth":1.5},"encoding":{"x":{"field":"t","type":"quantitative"},"y":{"field":"d_gos","type":"quantitative"}}},
 {"mark":{"type":"line","color":"#800080","strokeWidth":1.5},"encoding":{"x":{"field":"t","type":"quantitative"},"y":{"field":"d_coare","type":"quantitative"}}},
 {"transform":[{"fold":["d_gos","d_coare"],"as":["series","v"]}],"mark":{"type":"point","shape":"circle","strokeWidth":1.3,"opacity":1},"encoding":{"x":{"field":"t","type":"quantitative"},"y":{"field":"v","type":"quantitative"},
  "fill":{"field":"series","type":"nominal","scale":{"domain":["d_gos","d_coare"],"range":["#000080","transparent"]},"legend":{"title":null,"orient":"top-left","symbolSize":80,"labelExpr":"datum.value == 'd_gos' ? 'Gosnell Rain' : 'COARE Turbulent'"}},
  "stroke":{"field":"series","type":"nominal","scale":{"domain":["d_gos","d_coare"],"range":["#000080","#800080"]},"legend":{"title":null,"orient":"top-left","symbolSize":80,"labelExpr":"datum.value == 'd_gos' ? 'Gosnell Rain' : 'COARE Turbulent'"}},
  "size":{"field":"n","type":"quantitative","scale":{"domain":[30,60],"range":[30,120]},"legend":null}}},
 {"data":{"values":[{"label":"(d)"}]},"mark":{"type":"text","align":"right","baseline":"top","dx":-5,"dy":5,"fontSize":17},"encoding":{"x":{"datum":3,"type":"quantitative"},"y":{"datum":357,"type":"quantitative"},"text":{"field":"label"}}}
]},
{"width":512,"height":166,"title":"Specific Humidity","data":{"name":"main"},"layer":[
 {"mark":{"type":"area","color":"#d3d3d3","clip":true},"encoding":{"x":{"field":"t","type":"quantitative","scale":{"domain":[-1,3],"nice":false,"zero":false},"axis":{"values":[-1,0,1,2,3],"labelExpr":"datum.value == 0 ? 'Onset' : datum.value == 1 ? 'δSSTₘₐₓ' : datum.value == -1 ? '-1' : datum.value == 2 ? '2' : '3'","title":null}},"y":{"field":"i_lo","type":"quantitative","scale":{"domain":[-1.64,0.59],"nice":false,"zero":false},"axis":{"title":"δqₐᵢᵣ (g/kg)","values":[-1,0],"format":"d","titleX":-62}},"y2":{"field":"i_hi"}}},
 {"data":{"values":[{}]},"mark":{"type":"rule","color":"#555555","strokeWidth":1},"encoding":{"y":{"datum":0,"type":"quantitative"}}},
 {"mark":{"type":"line","color":"#483d8b","strokeWidth":1.5},"encoding":{"x":{"field":"t","type":"quantitative"},"y":{"field":"i","type":"quantitative"}}},
 {"mark":{"type":"circle","color":"#483d8b","opacity":1},"encoding":{"x":{"field":"t","type":"quantitative"},"y":{"field":"i","type":"quantitative"},"size":{"field":"n","type":"quantitative","scale":{"domain":[30,60],"range":[30,120]},"legend":null}}},
 {"data":{"values":[{"label":"(i)"}]},"mark":{"type":"text","align":"right","baseline":"top","dx":-5,"dy":5,"fontSize":17},"encoding":{"x":{"datum":3,"type":"quantitative"},"y":{"datum":0.59,"type":"quantitative"},"text":{"field":"label"}}}
]},
{"width":512,"height":166,"title":{"text":"Tₛₖᵢₙ − Tₐᵢᵣ","fontStyle":"italic"},"data":{"name":"main"},"layer":[
 {"mark":{"type":"area","color":"#d3d3d3","clip":true},"encoding":{"x":{"field":"t","type":"quantitative","scale":{"domain":[-1,3],"nice":false,"zero":false},"axis":{"values":[-1,0,1,2,3],"labelExpr":"datum.value == 0 ? 'Onset' : datum.value == 1 ? 'δSSTₘₐₓ' : datum.value == -1 ? '-1' : datum.value == 2 ? '2' : '3'","title":"Normalized Time (t − tₒₙₛₑₜ)/tδSSTₘₐₓ"}},"y":{"field":"e_lo","type":"quantitative","scale":{"domain":[-0.79,2.21],"nice":false,"zero":false},"axis":{"title":"δ ΔT (°C)","values":[0,1,2],"format":"d","titleX":-63}},"y2":{"field":"e_hi"}}},
 {"data":{"values":[{}]},"mark":{"type":"rule","color":"#555555","strokeWidth":1},"encoding":{"y":{"datum":0,"type":"quantitative"}}},
 {"mark":{"type":"line","color":"#d62728","strokeWidth":1.5},"encoding":{"x":{"field":"t","type":"quantitative"},"y":{"field":"e","type":"quantitative"}}},
 {"mark":{"type":"circle","color":"#d62728","opacity":1},"encoding":{"x":{"field":"t","type":"quantitative"},"y":{"field":"e","type":"quantitative"},"size":{"field":"n","type":"quantitative","scale":{"domain":[30,60],"range":[30,120]},"legend":null}}},
 {"data":{"values":[{"label":"(e)"}]},"mark":{"type":"text","align":"right","baseline":"top","dx":-5,"dy":5,"fontSize":17},"encoding":{"x":{"datum":3,"type":"quantitative"},"y":{"datum":2.21,"type":"quantitative"},"text":{"field":"label"}}}
]},
{"width":512,"height":166,"title":{"text":"qₛₐₜ(Tₛₖᵢₙ) − qₐᵢᵣ","fontStyle":"italic"},"data":{"name":"main"},"layer":[
 {"mark":{"type":"area","color":"#d3d3d3","clip":true},"encoding":{"x":{"field":"t","type":"quantitative","scale":{"domain":[-1,3],"nice":false,"zero":false},"axis":{"values":[-1,0,1,2,3],"labelExpr":"datum.value == 0 ? 'Onset' : datum.value == 1 ? 'δSSTₘₐₓ' : datum.value == -1 ? '-1' : datum.value == 2 ? '2' : '3'","title":"Normalized Time (t − tₒₙₛₑₜ)/tδSSTₘₐₓ"}},"y":{"field":"j_lo","type":"quantitative","scale":{"domain":[-0.67,1.175],"nice":false,"zero":false},"axis":{"title":"δ Δq (g/kg)","values":[-0.5,0,0.5,1],"format":".1f","titleX":-72}},"y2":{"field":"j_hi"}}},
 {"data":{"values":[{}]},"mark":{"type":"rule","color":"#555555","strokeWidth":1},"encoding":{"y":{"datum":0,"type":"quantitative"}}},
 {"mark":{"type":"line","color":"#000000","strokeWidth":1.5},"encoding":{"x":{"field":"t","type":"quantitative"},"y":{"field":"j","type":"quantitative"}}},
 {"mark":{"type":"circle","color":"#000000","opacity":1},"encoding":{"x":{"field":"t","type":"quantitative"},"y":{"field":"j","type":"quantitative"},"size":{"field":"n","type":"quantitative","scale":{"domain":[30,60],"range":[30,120]},"legend":null}}},
 {"data":{"values":[{"label":"(j)"}]},"mark":{"type":"text","align":"right","baseline":"top","dx":-5,"dy":5,"fontSize":17},"encoding":{"x":{"datum":3,"type":"quantitative"},"y":{"datum":1.175,"type":"quantitative"},"text":{"field":"label"}}}
]}
]
}
